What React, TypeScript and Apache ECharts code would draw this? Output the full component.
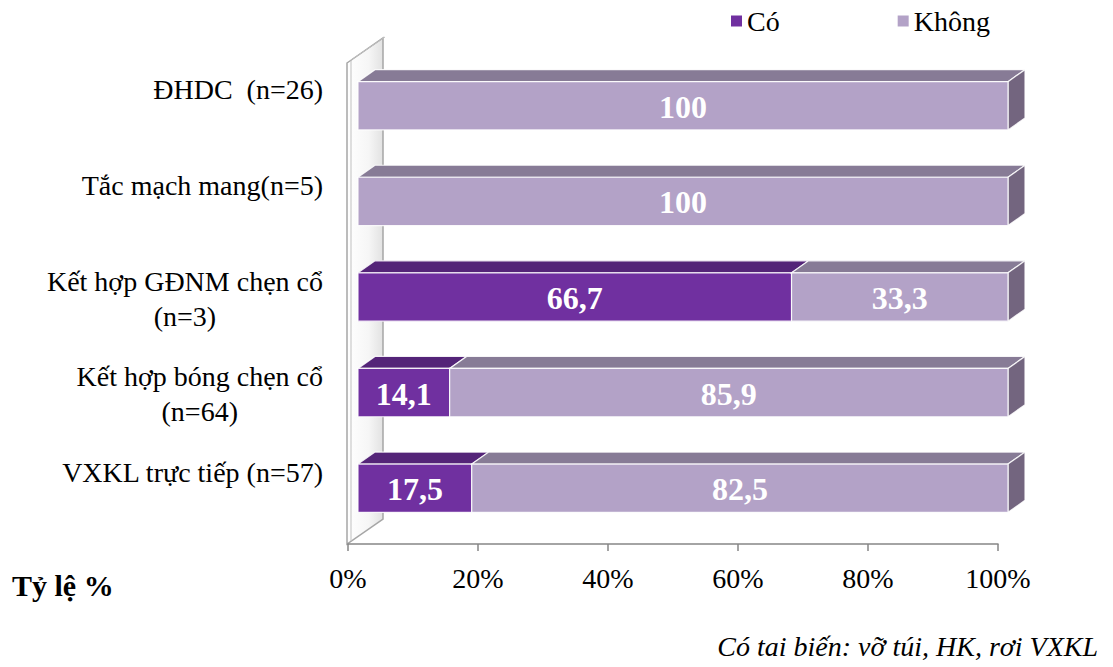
import React, { useEffect, useRef } from "react";
import * as echarts from "echarts";

const categories = [
  "ĐHDC  (n=26)",
  "Tắc mạch mang(n=5)",
  "Kết hợp GĐNM chẹn cổ\n(n=3)",
  "Kết hợp bóng chẹn cổ\n(n=64)",
  "VXKL trực tiếp (n=57)",
];
const coValues = [0, 0, 66.7, 14.1, 17.5];
const khongValues = [100, 100, 33.3, 85.9, 82.5];
const seriesNames = ["Có", "Không"];
const axisTitle = "Tỷ lệ %";
const footnote = "Có tai biến: vỡ túi, HK, rơi VXKL";

const FONT = '"Liberation Serif", "Times New Roman", serif';
const W = 1113;
const H = 667;
const GRID_LEFT = 348;
const GRID_RIGHT_X = 998;
const GRID_TOP = 66;
const GRID_BOTTOM_Y = 544;
const WALL_DX = 36;
const WALL_DY = -25;
const BAR_OFF_X = 10;
const BAR_OFF_Y = -8;
const DEPTH_X = 17;
const DEPTH_Y = -12;

const CO = { front: "#7030A0", top: "#542478", side: "#4a1f6a" };
const KHONG = { front: "#B3A2C7", top: "#877B96", side: "#73657F" };

function fmt(v: number) {
  return Number.isInteger(v) ? String(v) : v.toFixed(1).replace(".", ",");
}

function makeRenderItem(colors: any, drawSide: boolean) {
  return (params: any, api: any) => {
    const start = api.value(0);
    const end = api.value(1);
    const cat = api.value(2);
    const val = api.value(3);
    if (!(val > 0)) return { type: "group", children: [] };
    const c0 = api.coord([start, cat]);
    const c1 = api.coord([end, cat]);
    const band = api.size([0, 1])[1];
    const h = band * 0.505;
    const x0 = c0[0] + BAR_OFF_X;
    const x1 = c1[0] + BAR_OFF_X;
    const y0 = c0[1] + BAR_OFF_Y - h / 2;
    const y1 = y0 + h;
    const stroke = { stroke: "rgba(255,255,255,0.85)", lineWidth: 1.2 };
    const children: any[] = [
      {
        type: "polygon",
        shape: {
          points: [
            [x0, y0],
            [x1, y0],
            [x1 + DEPTH_X, y0 + DEPTH_Y],
            [x0 + DEPTH_X, y0 + DEPTH_Y],
          ],
        },
        style: { fill: colors.top, ...stroke },
      },
    ];
    if (drawSide) {
      children.push({
        type: "polygon",
        shape: {
          points: [
            [x1, y0],
            [x1 + DEPTH_X, y0 + DEPTH_Y],
            [x1 + DEPTH_X, y1 + DEPTH_Y],
            [x1, y1],
          ],
        },
        style: { fill: colors.side, ...stroke },
      });
    }
    children.push({
      type: "rect",
      shape: { x: x0, y: y0, width: x1 - x0, height: h },
      style: { fill: colors.front, ...stroke },
    });
    children.push({
      type: "text",
      x: (x0 + x1) / 2,
      y: (y0 + y1) / 2 + 1,
      style: {
        text: fmt(val),
        fill: "#ffffff",
        font: `bold 32px ${FONT}`,
        align: "center",
        verticalAlign: "middle",
      },
    });
    return { type: "group", children };
  };
}

export default function App() {
  const ref = useRef<HTMLDivElement>(null);
  useEffect(() => {
    if (!ref.current) return;
    const chart = echarts.init(ref.current, undefined, { renderer: "svg" });
    const coData = coValues.map((v, i) => [0, v, i, v]);
    const khongData = khongValues.map((v, i) => [coValues[i], coValues[i] + v, i, v]);
    const wallBottom = GRID_BOTTOM_Y;
    const wallTop = 63;
    const wl = GRID_LEFT - 1;
    chart.setOption({
      animation: false,
      backgroundColor: "#ffffff",
      textStyle: { fontFamily: FONT },
      legend: {
        data: seriesNames,
        left: 726,
        top: 2,
        icon: "rect",
        itemWidth: 11,
        itemHeight: 11,
        itemGap: 118,
        textStyle: { fontFamily: FONT, fontSize: 28, color: "#000" },
      },
      grid: {
        left: GRID_LEFT,
        right: W - GRID_RIGHT_X,
        top: GRID_TOP,
        bottom: H - GRID_BOTTOM_Y,
        containLabel: false,
      },
      xAxis: {
        type: "value",
        min: 0,
        max: 100,
        interval: 20,
        axisLine: { show: true, lineStyle: { color: "#868686", width: 1.5 } },
        axisTick: { show: true, length: 7, lineStyle: { color: "#868686", width: 1.5 } },
        splitLine: { show: false },
        axisLabel: {
          formatter: "{value}%",
          fontFamily: FONT,
          fontSize: 28,
          color: "#000",
          margin: 20,
        },
      },
      yAxis: {
        type: "category",
        data: categories,
        inverse: true,
        axisLine: { show: false },
        axisTick: { show: false },
        splitLine: { show: false },
        axisLabel: {
          fontFamily: FONT,
          fontSize: 28,
          lineHeight: 35,
          color: "#000",
          margin: 25,
          padding: [0, 0, 13, 0],
          formatter: (v: string) => {
            if (v.indexOf("\n") >= 0) {
              return v
                .split("\n")
                .map((s) => `{c|${s}}`)
                .join("\n");
            }
            return v + "\n ";
          },
          rich: {
            c: {
              align: "center",
              fontFamily: FONT,
              fontSize: 28,
              lineHeight: 35,
              color: "#000",
            },
          },
        },
      },
      graphic: [
        {
          type: "polygon",
          z: -1,
          shape: {
            points: [
              [wl, wallTop],
              [wl + WALL_DX, wallTop + WALL_DY],
              [wl + WALL_DX, wallBottom + WALL_DY],
              [wl, wallBottom],
            ],
          },
          style: {
            fill: {
              type: "linear",
              x: 0,
              y: 0,
              x2: 1,
              y2: 0,
              colorStops: [
                { offset: 0, color: "#ffffff" },
                { offset: 0.6, color: "#f6f6f6" },
                { offset: 1, color: "#e2e2e2" },
              ],
            },
            stroke: "#A6A6A6",
            lineWidth: 1.5,
          },
        },
        {
          type: "polyline",
          z: -1,
          shape: {
            points: [
              [wl + 4, wallBottom - 3],
              [wl + 4, wallTop - 3],
              [wl + WALL_DX + 2, wallTop + WALL_DY - 1],
            ],
          },
          style: { stroke: "#BFBFBF", lineWidth: 1, fill: "none" },
        },
        {
          type: "text",
          left: 12,
          top: 570,
          style: {
            text: axisTitle,
            font: `bold 30px ${FONT}`,
            fill: "#000",
          },
        },
        {
          type: "text",
          right: 15,
          top: 632,
          style: {
            text: footnote,
            font: `italic 28px ${FONT}`,
            fill: "#000",
          },
        },
      ],
      series: [
        {
          name: seriesNames[0],
          type: "custom",
          itemStyle: { color: CO.front },
          encode: { x: [0, 1], y: 2 },
          renderItem: makeRenderItem(CO, false),
          data: coData,
          z: 3,
        },
        {
          name: seriesNames[1],
          type: "custom",
          itemStyle: { color: KHONG.front },
          encode: { x: [0, 1], y: 2 },
          renderItem: makeRenderItem(KHONG, true),
          data: khongData,
          z: 3,
        },
      ],
    });
    return () => chart.dispose();
  }, []);
  return (
    <div
      ref={ref}
      style={{ position: "fixed", left: 0, top: 0, width: W, height: H }}
    />
  );
}
